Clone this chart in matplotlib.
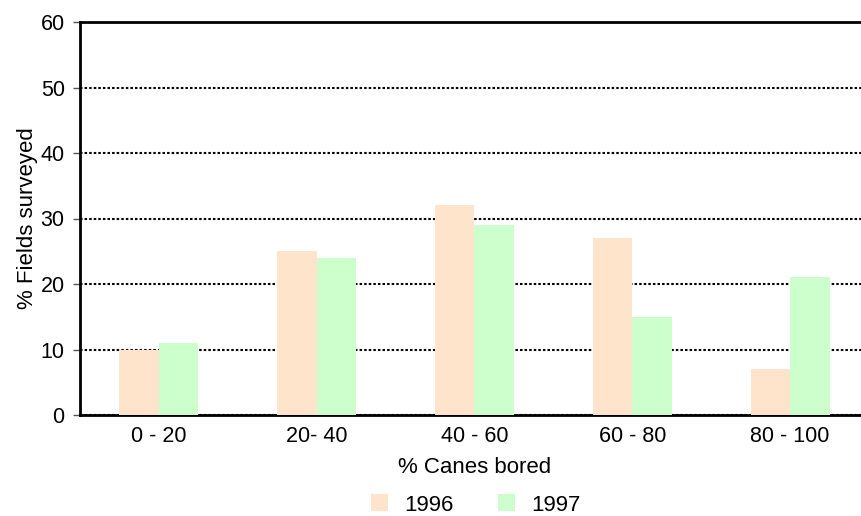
import matplotlib.pyplot as plt
import numpy as np

categories = ['0 - 20', '20- 40', '40 - 60', '60 - 80', '80 - 100']
values_1996 = [10, 25, 32, 27, 7]
values_1997 = [11, 24, 29, 15, 21]

plt.rcParams['font.family'] = ['Liberation Sans', 'DejaVu Sans']

fig = plt.figure(figsize=(8.61, 5.16), dpi=100)
ax = fig.add_axes([80 / 861, 101 / 516, 789 / 861, 393 / 516])

x = np.arange(len(categories))
w = 0.25
ax.bar(x - w / 2, values_1996, w, color='#ffe4cc', label='1996', zorder=3)
ax.bar(x + w / 2, values_1997, w, color='#ccffcc', label='1997', zorder=3)

ax.set_xlim(-0.5, 4.5)
ax.set_ylim(0, 60)
ax.set_yticks(range(0, 61, 10))
ax.set_xticks(x)
ax.set_xticklabels(categories)
ax.tick_params(axis='both', labelsize=15.5)
ax.tick_params(axis='x', length=0, pad=8)
ax.tick_params(axis='y', length=5, width=1, color='#555555', pad=6)

ax.yaxis.grid(True, linestyle=(0, (1.2, 1)), color='black', linewidth=1.5, zorder=0)
ax.set_axisbelow(True)

for s in ['left', 'bottom', 'top']:
    ax.spines[s].set_linewidth(2)
ax.spines['right'].set_visible(False)

ax.set_xlabel('% Canes bored', fontsize=16, labelpad=7)
ax.set_ylabel('% Fields surveyed', fontsize=16, labelpad=2)

fig.legend(*ax.get_legend_handles_labels(), loc='center',
           bbox_to_anchor=(476 / 861, 11 / 516), ncol=2, frameon=False,
           fontsize=16, handlelength=0.77, handleheight=0.77, columnspacing=2.0,
           handletextpad=0.72, borderaxespad=0, borderpad=0)

fig.savefig('out.png', dpi=100)
